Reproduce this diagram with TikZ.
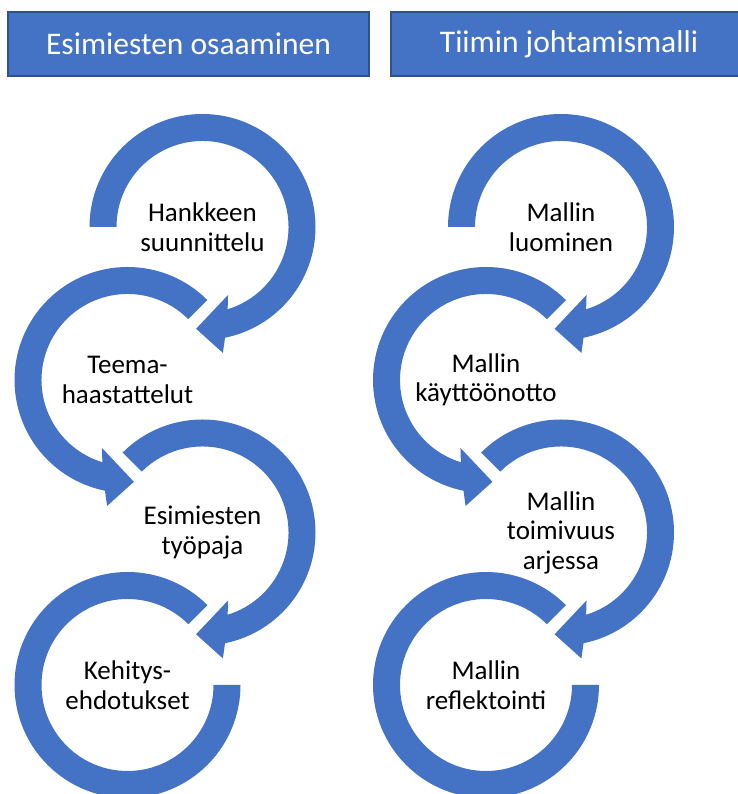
\documentclass[tikz,border=0pt]{standalone}
\usepackage{fontspec}
\setmainfont{Carlito}
\usetikzlibrary{calc}
\definecolor{accent}{HTML}{4472C4}
\definecolor{accentdark}{HTML}{2F528F}

% Outer and inner radius of the circular arrow bands
\def\Rout{113}
\def\Rin{86}

% Clockwise arrow from angle #2, ending at the bottom with an arrowhead pointing left
\newcommand{\cwarrow}[2]{%
  \fill[accent] ($(#1)+(#2:\Rout)$) arc[start angle=#2, end angle=-78.5, radius=\Rout]
    -- ($(#1)+(-80.8:127.6)$) -- ($(#1)+(-93.6:102)$) -- ($(#1)+(-69.4:72.6)$)
    -- ($(#1)+(-73:\Rin)$) arc[start angle=-73, end angle=#2, radius=\Rin] -- cycle;}
% Counter-clockwise arrow from angle #2, ending at the bottom with an arrowhead pointing right
\newcommand{\ccwarrow}[2]{%
  \fill[accent] ($(#1)+(#2:\Rout)$) arc[start angle=#2, end angle=258.5, radius=\Rout]
    -- ($(#1)+(260.8:127.6)$) -- ($(#1)+(273.6:102)$) -- ($(#1)+(249.4:72.6)$)
    -- ($(#1)+(253:\Rin)$) arc[start angle=253, end angle=#2, radius=\Rin] -- cycle;}
% Final open ring, counter-clockwise from 45 degrees to 0 degrees
\newcommand{\lastring}[1]{%
  \fill[accent] ($(#1)+(45:\Rout)$) arc[start angle=45, end angle=360, radius=\Rout]
    -- ($(#1)+(0:\Rin)$) arc[start angle=360, end angle=45, radius=\Rin] -- cycle;}

\begin{document}
\begin{tikzpicture}[x=1pt, y=1pt,
  header/.style={draw=accentdark, line width=1.3pt, fill=accent, text=white,
    font=\fontsize{31.5}{36}\selectfont, inner sep=0pt},
  steplabel/.style={align=center, inner sep=0pt, text=black,
    font=\fontsize{27}{29.5}\selectfont}]
\useasboundingbox (0,0) rectangle (737,794);

% Column headers
\node[header, minimum width=361, minimum height=64] (hleft) at (188.5,750) {Esimiesten osaaminen};
\node[header, minimum width=356, minimum height=64] (hright) at (569,750) {Tiimin johtamismalli};

% Centres of the step circles
\coordinate (a1) at (202.5,567);
\coordinate (a2) at (127.5,414);
\coordinate (a3) at (202.5,261.5);
\coordinate (a4) at (127.5,109);
\coordinate (b1) at (561,567);
\coordinate (b2) at (486,414);
\coordinate (b3) at (561,261.5);
\coordinate (b4) at (486,109);

% Left column arrows
\cwarrow{a1}{180}
\ccwarrow{a2}{45}
\cwarrow{a3}{135}
\lastring{a4}

% Right column arrows
\cwarrow{b1}{180}
\ccwarrow{b2}{45}
\cwarrow{b3}{135}
\lastring{b4}

% Step labels
\node[steplabel] (la1) at (a1) {Hankkeen\\suunnittelu};
\node[steplabel] (la2) at (a2) {Teema-\\haastattelut};
\node[steplabel] (la3) at (a3) {Esimiesten\\työpaja};
\node[steplabel] (la4) at (a4) {Kehitys-\\ehdotukset};
\node[steplabel] (lb1) at (b1) {Mallin\\luominen};
\node[steplabel] (lb2) at (b2) {Mallin\\käyttöönotto};
\node[steplabel] (lb3) at (b3) {Mallin\\toimivuus\\arjessa};
\node[steplabel] (lb4) at (b4) {Mallin\\reflektointi};
\end{tikzpicture}
\end{document}
